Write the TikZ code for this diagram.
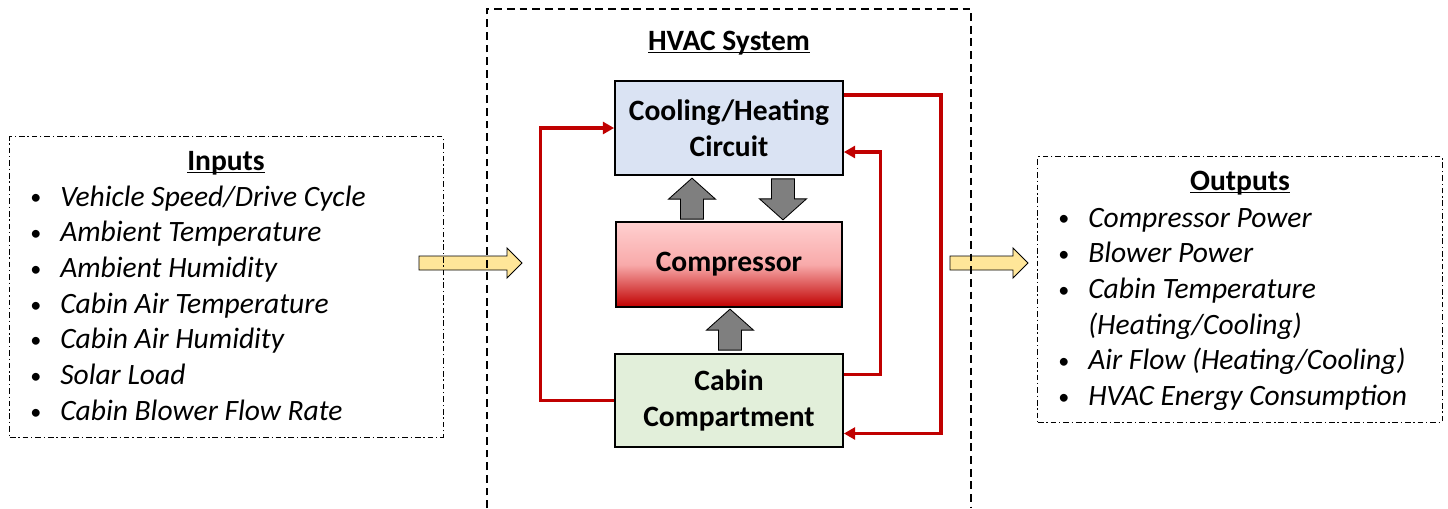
\documentclass[tikz,border=0pt]{standalone}
\usepackage{fontspec}
\setmainfont{Carlito}
\usetikzlibrary{arrows.meta,positioning,calc}

\definecolor{coolblue}{RGB}{218,227,243}
\definecolor{cabingreen}{RGB}{226,239,218}
\definecolor{comptop}{RGB}{255,208,208}
\definecolor{compmid}{RGB}{248,170,170}
\definecolor{compbot}{RGB}{192,0,0}
\definecolor{loopred}{RGB}{192,0,0}
\definecolor{flowyellow}{RGB}{255,230,153}
\definecolor{blockgray}{RGB}{127,127,127}

\newcommand{\bul}{\raisebox{0.8pt}{\scalebox{0.75}{\textbullet}}}

\tikzset{
  sysbox/.style={draw, line width=1.2pt, minimum width=5.7cm, minimum height=2.35cm,
    align=center, font=\fontsize{21}{25.4}\selectfont\bfseries},
  listframe/.style={draw, line width=0.7pt, dash pattern=on 4pt off 2pt on 1pt off 2pt},
  framedash/.style={draw, line width=0.8pt, dash pattern=on 5.5pt off 3.5pt},
  redline/.style={draw=loopred, line width=2.3pt, -{Triangle[length=8pt,width=8.5pt]}},
  pics/blockup/.style={code={
    \draw[fill=blockgray, line width=0.6pt] (-11.5,0) -- (-11.5,-20) -- (-23.5,-20) -- (0,-41)
      -- (23.5,-20) -- (11.5,-20) -- (11.5,0) -- cycle;}},
  pics/flowarrow/.style={code={
    \draw[fill=flowyellow, line width=0.6pt] (0,-7) -- ({#1-15},-7) -- ({#1-15},-15) -- (#1,0)
      -- ({#1-15},15) -- ({#1-15},7) -- (0,7) -- cycle;}}
}

\begin{document}
\begin{tikzpicture}[x=0.025cm, y=-0.025cm, font=\fontsize{21}{25.4}\selectfont]
  \useasboundingbox (0,0) rectangle (1448,508);

  % yellow flow arrows
  \pic at (419,263) {flowarrow=103};
  \pic at (950,263) {flowarrow=78};

  % inputs
  \node[listframe, minimum width=10.825cm, minimum height=7.5cm] (inputs) at (226.5,287) {};
  \node[anchor=base] (intitle) at (226,170) {\underline{\smash{\textbf{Inputs}}}};
  \node[anchor=base west, inner sep=0] (inlist) at (30,206) {%
    \begin{tabular}[t]{@{}p{0.75cm}@{}l@{}}
      \bul & \textit{Vehicle Speed/Drive Cycle}\\
      \bul & \textit{Ambient Temperature}\\
      \bul & \textit{Ambient Humidity}\\
      \bul & \textit{Cabin Air Temperature}\\
      \bul & \textit{Cabin Air Humidity}\\
      \bul & \textit{Solar Load}\\
      \bul & \textit{Cabin Blower Flow Rate}
    \end{tabular}};

  % hvac system
  \draw[framedash] (487,508) -- (487,9) -- (971,9) -- (971,508);
  \node[anchor=base] (hvactitle) at (729,50) {\underline{\smash{\textbf{HVAC System}}}};

  \node[sysbox, fill=coolblue] (cool) at (729,128) {Cooling/Heating\\Circuit};
  \node[sysbox, minimum width=5.65cm, minimum height=2.125cm, top color=comptop,
    bottom color=compbot, middle color=compmid] (comp) at (729,264.5) {Compressor};
  \node[sysbox, fill=cabingreen, minimum height=2.325cm] (cabin) at (729,400.5) {Cabin\\Compartment};

  \pic at ($(comp.north)+(-37,-2)$) {blockup};
  \pic[rotate=180] at ($(cool.south)+(54,3)$) {blockup};
  \pic at ($(cabin.north)+(1,-3)$) {blockup};

  \draw[redline] (cabin.west) -- ++(-74,0) |- (cool.west);
  \draw[redline] ($(cabin.east)+(0,-26)$) -- ++(37,0) |- ($(cool.east)+(0,24)$);
  \draw[redline] ($(cool.east)+(0,-33)$) -- ++(97,0) |- ($(cabin.east)+(0,33)$);

  % outputs
  \node[listframe, minimum width=10.1cm, minimum height=6.625cm] (outputs) at (1240,289.5) {};
  \node[anchor=base] (outtitle) at (1240,190) {\underline{\smash{\textbf{Outputs}}}};
  \node[anchor=base west, inner sep=0] (outlist) at (1058,227) {%
    \begin{tabular}[t]{@{}p{0.75cm}@{}l@{}}
      \bul & \textit{Compressor Power}\\
      \bul & \textit{Blower Power}\\
      \bul & \textit{Cabin Temperature}\\
           & \textit{(Heating/Cooling)}\\
      \bul & \textit{Air Flow (Heating/Cooling)}\\
      \bul & \textit{HVAC Energy Consumption}
    \end{tabular}};
\end{tikzpicture}
\end{document}
